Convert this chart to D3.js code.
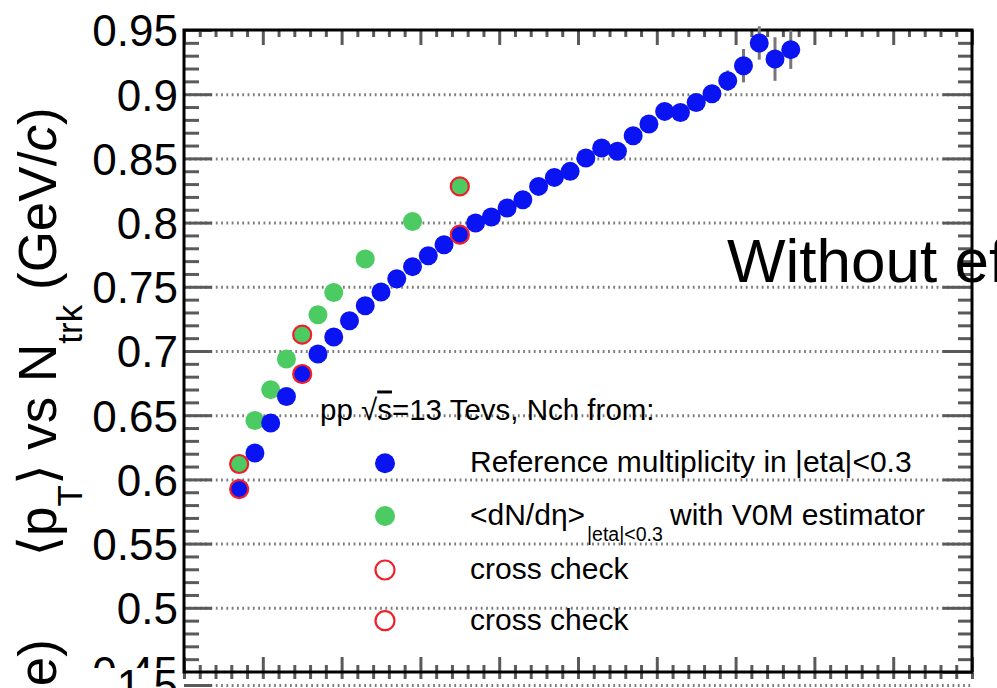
<!DOCTYPE html>
<html>
<head>
<meta charset="utf-8">
<title>mean pT vs Ntrk</title>
<script src="https://d3js.org/d3.v7.min.js"></script>
<style>
  body { margin: 0; background: #fff; }
  svg { display: block; }
  text { font-family: "Liberation Sans", Arial, Helvetica, "DejaVu Sans", sans-serif; fill: #000; }
  .tick line { stroke: #5a5a5a; stroke-width: 3; }
  .grid line { stroke: #7c7c7c; stroke-width: 3; stroke-dasharray: 1.8 3.5; }
</style>
</head>
<body>
<svg width="997" height="688"></svg>
<script>
// <pT> per multiplicity bin, reference estimator (|eta|<0.3)
const nchRef = [7, 9, 11, 13, 15, 17, 19, 21, 23, 25, 27, 29, 31, 33, 35, 37, 39, 41,
                43, 45, 47, 49, 51, 53, 55, 57, 59, 61, 63, 65, 67, 69, 71, 73, 75, 77];
const meanPtRef = [0.5925, 0.6206, 0.6439, 0.6646, 0.6821, 0.6977, 0.7109, 0.7236, 0.7353,
                   0.7459, 0.7563, 0.7657, 0.7742, 0.7828, 0.7906, 0.7997, 0.8044, 0.8114,
                   0.8178, 0.8282, 0.8352, 0.8399, 0.8503, 0.8581, 0.8555, 0.8677, 0.8768,
                   0.8866, 0.8858, 0.8936, 0.9004, 0.9105, 0.9222, 0.9399, 0.9274, 0.9347];
const errRef = [0.001, 0.001, 0.001, 0.001, 0.001, 0.001, 0.001, 0.001, 0.001,
                0.001, 0.001, 0.001, 0.001, 0.001, 0.001, 0.001, 0.001, 0.001,
                0.001, 0.001, 0.001, 0.001, 0.002, 0.002, 0.002, 0.002, 0.003,
                0.003, 0.003, 0.004, 0.005, 0.008, 0.013, 0.013, 0.017, 0.015];

// <dN/deta> with V0M estimator
const nchV0M = [7, 9, 11, 13, 15, 17, 19, 23, 29, 35];
const meanPtV0M = [0.612, 0.6459, 0.6699, 0.6938, 0.7127, 0.7283, 0.7456, 0.7717, 0.8009, 0.8282];

// cross checks
const nchCheckRef = [7, 15, 35];
const meanPtCheckRef = [0.5925, 0.6821, 0.7906];
const nchCheckV0M = [7, 15, 35];
const meanPtCheckV0M = [0.612, 0.7127, 0.8282];

const yMajor = [0.45, 0.5, 0.55, 0.6, 0.65, 0.7, 0.75, 0.8, 0.85, 0.9, 0.95];
const xMajor = d3.range(0, 101, 10);

const legendHeader = "pp ";
const legendLabels = ["Reference multiplicity in |eta|<0.3", "<dN/d\u03b7>", "cross check", "cross check"];

const blue = "#0a14f2", green = "#4ccb63", red = "#f0202a";

const frame = { left: 184, right: 972, top: 30, bottom: 672 };

const svg = d3.select("svg");

const x = d3.scaleLinear().domain([0, 100]).range([frame.left, frame.right]);
const y = d3.scaleLinear().domain([0.45, 0.95]).range([frame.bottom, frame.top]);

const yMinor = d3.range(45, 96).map(v => v / 100).filter(v => Math.round(v * 100) % 5 !== 0);
const xMinor = d3.range(0, 101, 2).filter(v => v % 10 !== 0);

// clip for the upper pad labels (the pad below overlaps the last label)
svg.append("clipPath").attr("id", "upper")
  .append("rect").attr("x", -300).attr("y", 0).attr("width", 1300).attr("height", 668);

// dotted grid
svg.append("g")
  .attr("class", "grid")
  .attr("transform", `translate(${frame.left},0)`)
  .call(d3.axisLeft(y).tickValues(yMajor.slice(1, -1)).tickSize(-(frame.right - frame.left)).tickFormat(""))
  .call(g => g.select(".domain").remove())
  .selectAll(".tick line").attr("class", null);

// left axis
const fmt = d => String(+d.toFixed(2));
svg.append("g")
  .attr("transform", `translate(${frame.left},0)`)
  .attr("clip-path", "url(#upper)")
  .call(d3.axisLeft(y).tickValues(yMajor).tickSizeInner(-28).tickSizeOuter(0).tickPadding(6).tickFormat(fmt))
  .call(g => g.select(".domain").remove())
  .call(g => g.selectAll("text").attr("dy", "0.36em").style("font-size", "44px").attr("font-family", null));

svg.append("g")
  .attr("transform", `translate(${frame.left},0)`)
  .call(d3.axisLeft(y).tickValues(yMinor).tickSize(-15).tickFormat(""))
  .call(g => g.select(".domain").remove());

// right axis
svg.append("g")
  .attr("transform", `translate(${frame.right},0)`)
  .call(d3.axisRight(y).tickValues(yMajor).tickSize(-29).tickFormat(""))
  .call(g => g.select(".domain").remove());
svg.append("g")
  .attr("transform", `translate(${frame.right},0)`)
  .call(d3.axisRight(y).tickValues(yMinor).tickSize(-14).tickFormat(""))
  .call(g => g.select(".domain").remove());

// top and bottom x ticks, no labels in this pad
[[d3.axisTop, frame.top], [d3.axisBottom, frame.bottom]].forEach(([ax, yy]) => {
  svg.append("g").attr("transform", `translate(0,${yy})`)
    .call(ax(x).tickValues(xMajor).tickSize(-15).tickFormat(""))
    .call(g => g.select(".domain").remove());
  svg.append("g").attr("transform", `translate(0,${yy})`)
    .call(ax(x).tickValues(xMinor).tickSize(-7).tickFormat(""))
    .call(g => g.select(".domain").remove());
});

// pad below: top edge ticks, first grid line and its label
const yLow = d3.scaleLinear().domain([0.5, 1.5]).range([950, 685]);
svg.append("g").attr("transform", `translate(0,${frame.bottom + 1})`)
  .call(d3.axisTop(x).tickValues(xMajor.concat(xMinor)).tickSize(-6).tickFormat(""))
  .call(g => g.select(".domain").remove());
svg.append("g")
  .attr("class", "grid")
  .attr("transform", `translate(${frame.left},0)`)
  .call(d3.axisLeft(yLow).tickValues([1.5]).tickSize(-(frame.right - frame.left)).tickFormat(""))
  .call(g => g.select(".domain").remove())
  .selectAll(".tick line").attr("class", null);
svg.append("g")
  .attr("transform", `translate(${frame.left},0)`)
  .call(d3.axisLeft(yLow).tickValues([1.5]).tickSizeInner(-28).tickSizeOuter(0).tickPadding(6).tickFormat(d3.format(".1f")))
  .call(g => g.select(".domain").remove())
  .call(g => g.selectAll("text").attr("dy", "0.36em").style("font-size", "44px").attr("font-family", null));

// y axis titles
const title = svg.append("text")
  .attr("transform", "translate(56,332) rotate(-90)")
  .attr("text-anchor", "middle")
  .style("font-size", "53px");
title.append("tspan").text("\u27e8p");
title.append("tspan").attr("dy", 26).style("font-size", "35px").text("T");
title.append("tspan").attr("dy", -26).text("\u27e9 vs N");
title.append("tspan").attr("dy", 26).style("font-size", "35px").text("trk");
title.append("tspan").attr("dy", -26).text(" (GeV/");
title.append("tspan").style("font-style", "italic").text("c");
title.append("tspan").text(")");

svg.append("text")
  .attr("transform", "translate(56,639) rotate(-90)")
  .attr("text-anchor", "end")
  .style("font-size", "53px")
  .text("Ratio (to base)");

// frame
svg.append("rect")
  .attr("x", frame.left).attr("y", frame.top)
  .attr("width", frame.right - frame.left).attr("height", frame.bottom - frame.top)
  .attr("fill", "none").attr("stroke", "#000").attr("stroke-width", 3);

// error bars on the reference points
svg.append("g").selectAll("line")
  .data(nchRef)
  .join("line")
  .attr("x1", d => x(d)).attr("x2", d => x(d))
  .attr("y1", (d, i) => y(meanPtRef[i] - errRef[i]))
  .attr("y2", (d, i) => y(meanPtRef[i] + errRef[i]))
  .attr("stroke", "#777").attr("stroke-width", 3);

const R = 9.5;
svg.append("g").selectAll("circle")
  .data(nchV0M)
  .join("circle")
  .attr("cx", d => x(d)).attr("cy", (d, i) => y(meanPtV0M[i]))
  .attr("r", R).attr("fill", green);

svg.append("g").selectAll("circle")
  .data(nchRef)
  .join("circle")
  .attr("cx", d => x(d)).attr("cy", (d, i) => y(meanPtRef[i]))
  .attr("r", R).attr("fill", blue);

[[nchCheckRef, meanPtCheckRef], [nchCheckV0M, meanPtCheckV0M]].forEach(([xs, ys]) => {
  svg.append("g").selectAll("circle")
    .data(xs)
    .join("circle")
    .attr("cx", d => x(d)).attr("cy", (d, i) => y(ys[i]))
    .attr("r", R - 0.5).attr("fill", "none").attr("stroke", red).attr("stroke-width", 2.2);
});

// legend
const head = svg.append("text").attr("x", 320).attr("y", 419.5).style("font-size", "29.5px");
head.append("tspan").text(legendHeader + "\u221a");
head.append("tspan").style("text-decoration", "overline").text("s");
head.append("tspan").text("=13 Tevs, Nch from:");

const legY = [463.3, 516, 570, 620.7];
const legMarks = [
  { fill: blue, stroke: "none" },
  { fill: green, stroke: "none" },
  { fill: "none", stroke: red },
  { fill: "none", stroke: red }
];
svg.append("g").selectAll("circle")
  .data(legMarks)
  .join("circle")
  .attr("cx", 385).attr("cy", (d, i) => legY[i])
  .attr("r", d => d.stroke === "none" ? 10 : 9.5)
  .attr("fill", d => d.fill).attr("stroke", d => d.stroke).attr("stroke-width", 2.2);

const legText = svg.append("g").selectAll("text")
  .data(legendLabels)
  .join("text")
  .attr("x", 470).attr("y", (d, i) => legY[i] + 9)
  .style("font-size", "30px")
  .text(d => d);

const second = legText.filter((d, i) => i === 1);
second.append("tspan").attr("x", 587).attr("dy", 16).style("font-size", "19.5px").text("|eta|<0.3");
second.append("tspan").attr("x", 670).attr("dy", -16).text("with V0M estimator");

svg.append("text")
  .attr("x", 727).attr("y", 282)
  .style("font-size", "62px")
  .text("Without efficiency correction");
</script>
</body>
</html>
